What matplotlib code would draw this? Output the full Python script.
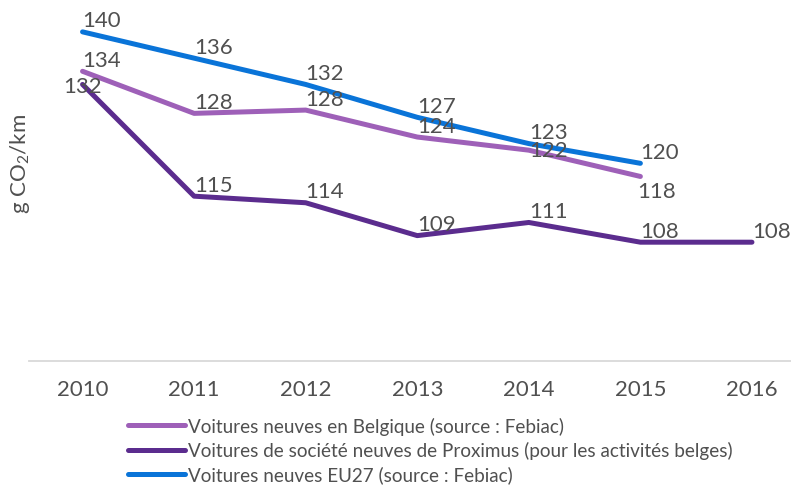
import matplotlib.pyplot as plt

plt.rcParams['font.family'] = ['Lato', 'DejaVu Sans']
plt.rcParams['mathtext.default'] = 'regular'

years = ['2010', '2011', '2012', '2013', '2014', '2015', '2016']
belgique = [134, 127.6, 128.1, 124, 122, 118]
proximus = [132, 115, 114, 109, 111, 108, 108]
eu27 = [140, 136, 132, 127, 123, 120]

labels = ['Voitures neuves en Belgique (source : Febiac)',
          'Voitures de société neuves de Proximus (pour les activités belges)',
          'Voitures neuves EU27 (source : Febiac)']
colors = ['#9E60B8', '#5B2C8E', '#0A74D8']
text_color = '#505050'

# label placement per series: (ha, va, dx, dy) in points
default_pos = ('left', 'bottom', 0, 1)
special_pos = {
    (1, 0): ('center', 'center', 0, -1),
    (0, 4): ('left', 'center', 0, 0),
    (0, 5): ('left', 'top', -2, -3),
}

fig = plt.figure(figsize=(7.91, 4.89), dpi=100)
ax = fig.add_axes([29 / 791, (489 - 361.5) / 489, 762 / 791, 361.5 / 489])

series = [belgique, proximus, eu27]
for i, vals in enumerate(series):
    xs = list(range(len(vals)))
    ax.plot(xs, vals, color=colors[i], lw=3.6, solid_capstyle='round',
            solid_joinstyle='round', label=labels[i])
    for j, v in enumerate(vals):
        ha, va, dx, dy = special_pos.get((i, j), default_pos)
        ax.annotate('%d' % round(v), (j, v), xytext=(dx, dy), textcoords='offset points',
                    ha=ha, va=va, fontsize=16, color=text_color)

ax.set_xlim(-0.48, 6.35)
ax.set_ylim(90, 145)
ax.set_xticks(range(len(years)))
ax.set_xticklabels(years, fontsize=16, color=text_color)
ax.tick_params(axis='x', length=0, pad=13)
ax.set_yticks([])
for s in ['top', 'right', 'left']:
    ax.spines[s].set_visible(False)
ax.spines['bottom'].set_color('#D9D9D9')
ax.spines['bottom'].set_linewidth(1.3)

fig.text(20 / 791, 1 - 164 / 489, 'g CO$_2$/km', rotation=90, ha='center', va='center',
         fontsize=16, color=text_color)

leg = fig.legend(loc='upper left', bbox_to_anchor=(128 / 791, 1 - 418 / 489),
                 frameon=False, fontsize=13.6, handlelength=3.0, handletextpad=0.15,
                 labelspacing=0.33, borderpad=0, borderaxespad=0)
for t in leg.get_texts():
    t.set_color(text_color)

fig.savefig('out.png', dpi=100)
